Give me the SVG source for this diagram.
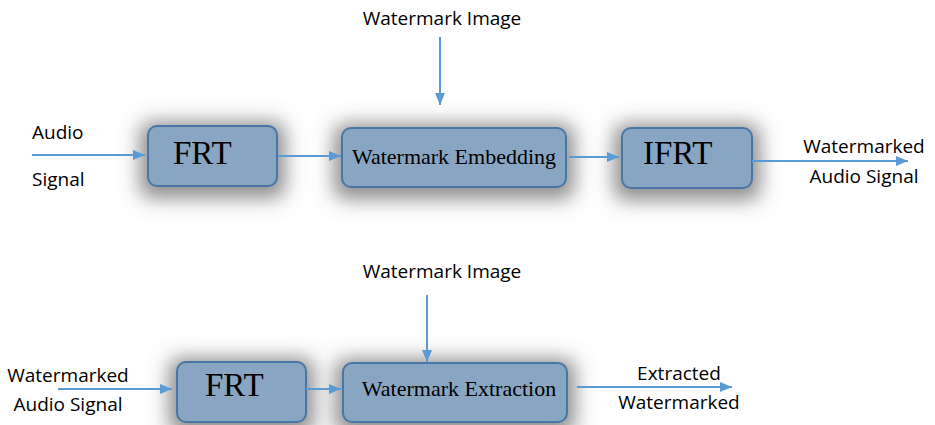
<svg xmlns="http://www.w3.org/2000/svg" width="935" height="425" viewBox="0 0 935 425">
  <defs>
    <filter id="glow" x="-50%" y="-90%" width="200%" height="280%">
      <feMorphology in="SourceAlpha" operator="dilate" radius="7" result="d"/>
      <feGaussianBlur in="d" stdDeviation="10" result="bl"/>
      <feOffset in="bl" dx="0" dy="4" result="o"/>
      <feFlood flood-color="#6e6e6e" flood-opacity="0.8"/>
      <feComposite in2="o" operator="in" result="sh"/>
      <feMerge><feMergeNode in="sh"/><feMergeNode in="SourceGraphic"/></feMerge>
    </filter>
    <marker id="arr" markerWidth="12" markerHeight="10" refX="12" refY="5" orient="auto" markerUnits="userSpaceOnUse">
      <path d="M0,0 L12,5 L0,10 Z" fill="#5b9bd5"/>
    </marker>
  </defs>
  <style>
    .box { fill: #88a6c2; stroke: #4a76a6; stroke-width: 2; filter: url(#glow); }
    .big { font-family: "Liberation Serif", "Times New Roman", serif; font-size: 33px; fill: #000; }
    .mid { font-family: "Liberation Serif", "Times New Roman", serif; font-size: 22px; fill: #000; }
    .lbl { font-family: "Open Sans", "Liberation Sans", sans-serif; font-size: 19px; fill: #000; }
    .con { stroke: #5b9bd5; stroke-width: 2; fill: none; marker-end: url(#arr); }
  </style>
  <rect width="935" height="425" fill="#ffffff"/>

  <!-- embedding chain -->
  <g id="frt1"><rect class="box" x="148" y="126" width="129" height="60" rx="9"/><text class="big" x="173" y="164">FRT</text></g>
  <g id="embed"><rect class="box" x="342" y="128" width="224" height="59" rx="9"/><text class="mid" x="454" y="164" text-anchor="middle">Watermark Embedding</text></g>
  <g id="ifrt"><rect class="box" x="622" y="128" width="130" height="60" rx="9"/><text class="big" x="643" y="164">IFRT</text></g>

  <!-- extraction chain -->
  <g id="frt2"><rect class="box" x="177" y="362" width="129" height="60" rx="9"/><text class="big" x="205" y="396">FRT</text></g>
  <g id="extract"><rect class="box" x="343" y="363" width="224" height="59" rx="9"/><text class="mid" x="459" y="396" text-anchor="middle">Watermark Extraction</text></g>

  <!-- labels -->
  <g id="labels">
    <text class="lbl" x="442" y="25" text-anchor="middle">Watermark Image</text>
    <text class="lbl" x="32" y="139">Audio</text>
    <text class="lbl" x="32" y="186">Signal</text>
    <text class="lbl" x="864" y="153" text-anchor="middle">Watermarked</text>
    <text class="lbl" x="864" y="183" text-anchor="middle">Audio Signal</text>
    <text class="lbl" x="442" y="278" text-anchor="middle">Watermark Image</text>
    <text class="lbl" x="68" y="382" text-anchor="middle">Watermarked</text>
    <text class="lbl" x="68" y="411" text-anchor="middle">Audio Signal</text>
    <text class="lbl" x="679" y="380" text-anchor="middle">Extracted</text>
    <text class="lbl" x="679" y="409" text-anchor="middle">Watermarked</text>
  </g>

  <g id="connectors">
    <line class="con" x1="32" y1="155" x2="145" y2="155"/>
    <line class="con" x1="278" y1="156" x2="341" y2="156"/>
    <line class="con" x1="569" y1="157" x2="619" y2="157"/>
    <line class="con" x1="752" y1="161" x2="908" y2="161"/>
    <line class="con" x1="440" y1="37" x2="440" y2="105"/>
    <line class="con" x1="58" y1="389" x2="172" y2="389"/>
    <line class="con" x1="306" y1="389" x2="341" y2="389"/>
    <line class="con" x1="427" y1="295" x2="427" y2="362"/>
    <line class="con" x1="577" y1="387" x2="732" y2="387"/>
  </g>
</svg>
